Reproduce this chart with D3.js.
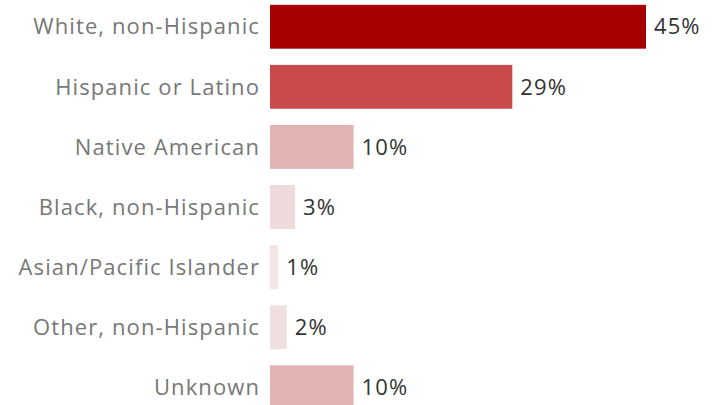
<!DOCTYPE html>
<html lang="en">
<head>
<meta charset="UTF-8">
<style>
  body { margin: 0; background: #fff; }
  text { font-family: "Open Sans", "Noto Sans", sans-serif; font-size: 22px; letter-spacing: 1.1px; }
</style>
</head>
<body>
<svg id="chart" width="722" height="405"></svg>
<script src="https://d3js.org/d3.v7.min.js"></script>
<script>
// Share of group, percent
var categories = ["White, non-Hispanic", "Hispanic or Latino", "Native American",
  "Black, non-Hispanic", "Asian/Pacific Islander", "Other, non-Hispanic", "Unknown"];
var values = [45, 29, 10, 3, 1, 2, 10];

var svg = d3.select("#chart");
var left = 270;

var x = d3.scaleLinear().domain([0, 45]).range([left, 646]);
var y = d3.scaleBand().domain(categories).range([-3, 417]).paddingInner(0.27).paddingOuter(0.13);
var color = d3.scaleLinear()
  .domain([0, 10, 29, 45])
  .range(["#f3eaea", "#e3b3b4", "#c94a4b", "#a50002"]);

var rows = svg.selectAll("g.row").data(categories).enter().append("g").attr("class", "row");

rows.append("rect")
  .attr("x", x(0))
  .attr("y", function(d) { return y(d); })
  .attr("height", y.bandwidth())
  .attr("width", function(d, i) { return x(values[i]) - x(0); })
  .attr("fill", function(d, i) { return color(values[i]); });

rows.append("text")
  .attr("x", left - 10)
  .attr("y", function(d) { return y(d) + y.bandwidth() / 2; })
  .attr("dy", "0.35em")
  .attr("text-anchor", "end")
  .attr("fill", "#777")
  .text(function(d) { return d; });

rows.append("text")
  .attr("x", function(d, i) { return x(values[i]) + 8; })
  .attr("y", function(d) { return y(d) + y.bandwidth() / 2; })
  .attr("dy", "0.35em")
  .attr("fill", "#333")
  .text(function(d, i) { return values[i] + "%"; });
</script>
</body>
</html>
